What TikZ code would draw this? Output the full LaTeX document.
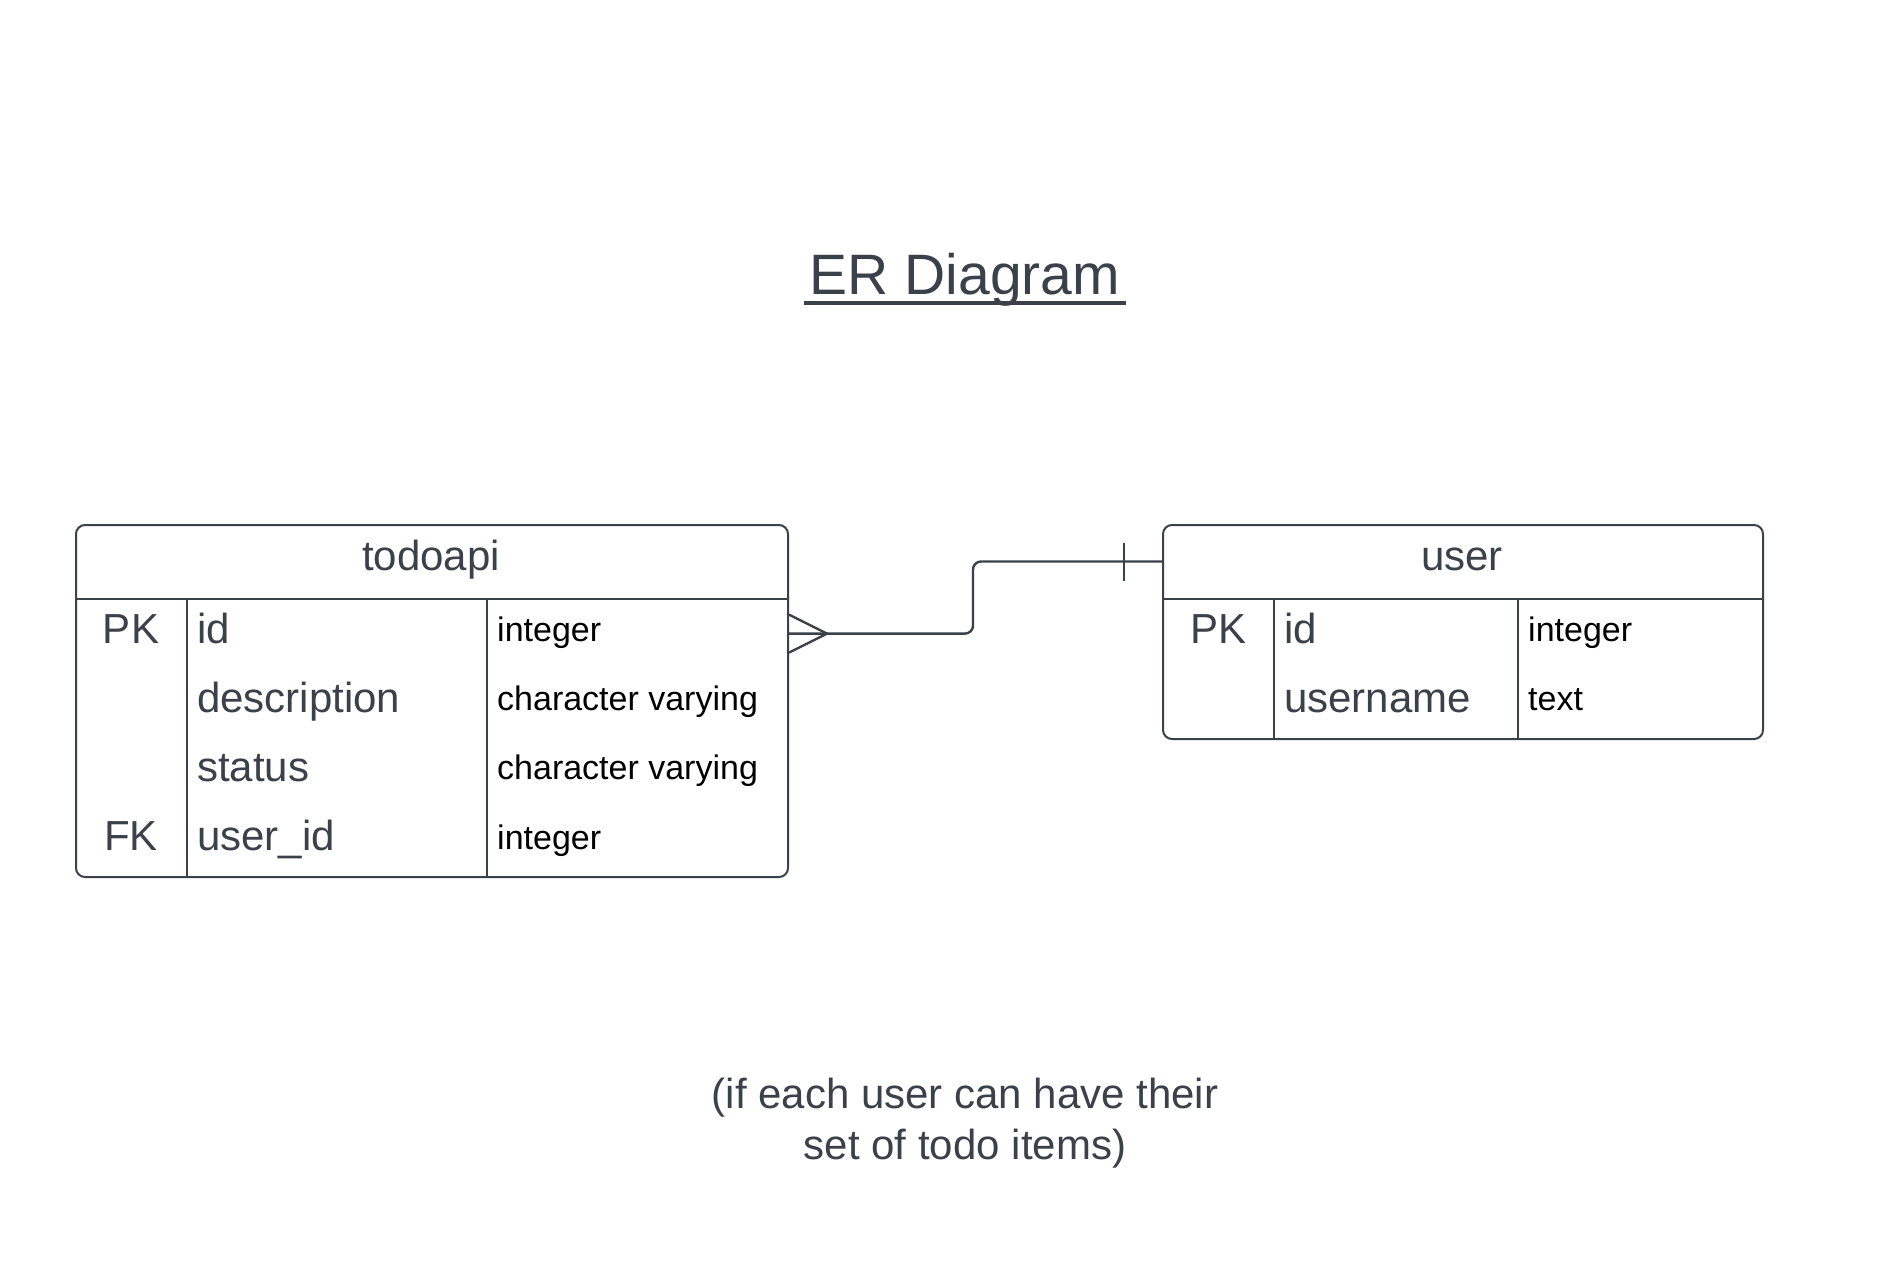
\documentclass[tikz,border=0pt]{standalone}
\usepackage{fontspec}
\setmainfont{Liberation Sans}
\definecolor{ink}{HTML}{3A414A}
\newcommand\erSizeL{\fontsize{42}{49}\selectfont}
\newcommand\erSizeN{\fontsize{42}{50.5}\selectfont}
\newcommand\erSizeS{\fontsize{34}{40}\selectfont}
\newcommand\erSizeT{\fontsize{57}{66}\selectfont}
\begin{document}
\begin{tikzpicture}[x=1pt,y=-1pt,
  tbl/.style={draw=ink, line width=2pt, rounded corners=9pt, rectangle, inner sep=0pt, anchor=north west},
  sep/.style={draw=ink, line width=1.3pt},
  conn/.style={draw=ink, line width=2.4pt},
  keytxt/.style={inner sep=0pt, text=ink, font=\erSizeL, text height=30pt, text depth=11.2pt, anchor=center},
  nametxt/.style={inner sep=0pt, text=ink, font=\erSizeL, text height=30pt, text depth=11.2pt, anchor=west},
  typetxt/.style={inner sep=0pt, text=black, font=\erSizeS, text height=25pt, text depth=9.8pt, anchor=west},
  headtxt/.style={inner sep=0pt, text=ink, font=\erSizeL, text height=30pt, text depth=11.2pt, anchor=center}
]
\useasboundingbox[fill=white] (0,0) rectangle (1884,1279);

% title
\node[inner xsep=6pt, inner ysep=0pt, text=ink, font=\erSizeT, anchor=base] (title) at (965,294) {ER Diagram};
\draw[ink, line width=4pt] ([yshift=-9pt]title.base west) -- ([yshift=-9pt]title.base east);

% todoapi table
\node[tbl, minimum width=712pt, minimum height=352pt] (todo) at (75,524) {};
\draw[sep] (75,599) -- (787,599);
\draw[sep] (187,599) -- (187,876);
\draw[sep] (487,599) -- (487,876);
\node[headtxt] (thead) at (431,561.5) {todoapi};
\node[keytxt] (tpk) at (131,633.6) {PK};
\node[keytxt] (tfk) at (131,841.4) {FK};
\node[nametxt] (tid) at (197,633.6) {id};
\node[nametxt] (tdesc) at (197,702.9) {description};
\node[nametxt] (tstat) at (197,772.1) {status};
\node[nametxt] (tuid) at (197,841.4) {user\_id};
\node[typetxt] (ttid) at (497,633.6) {integer};
\node[typetxt] (ttdesc) at (497,702.9) {character varying};
\node[typetxt] (ttstat) at (497,772.1) {character varying};
\node[typetxt] (ttuid) at (497,841.4) {integer};

% user table
\node[tbl, minimum width=600pt, minimum height=214pt] (user) at (1162,524) {};
\draw[sep] (1162,599) -- (1762,599);
\draw[sep] (1274,599) -- (1274,738);
\draw[sep] (1518,599) -- (1518,738);
\node[headtxt] (uhead) at (1462,561.5) {user};
\node[keytxt] (upk) at (1218,633.75) {PK};
\node[nametxt] (uid) at (1284,633.75) {id};
\node[nametxt] (uname) at (1284,703.25) {username};
\node[typetxt] (utid) at (1528,633.75) {integer};
\node[typetxt] (utname) at (1528,703.25) {text};

% relationship
\coordinate (bend) at (973,600);
\coordinate (cA) at (todo.east |- tid.west);
\coordinate (cB) at (user.west |- uhead.center);
\draw[conn, rounded corners=8pt] (cA) -| (bend) |- (cB);
\draw[conn] ([yshift=19pt]cA) -- ([xshift=38pt]cA) -- ([yshift=-19pt]cA);
\draw[conn] ([xshift=-38pt,yshift=19pt]cB) -- ([xshift=-38pt,yshift=-19pt]cB);

% note
\node[inner sep=0pt, text=ink, font=\erSizeN, align=center, anchor=base] (note) at (965,1159) {(if each user can have their\\set of todo items)};
\end{tikzpicture}
\end{document}
